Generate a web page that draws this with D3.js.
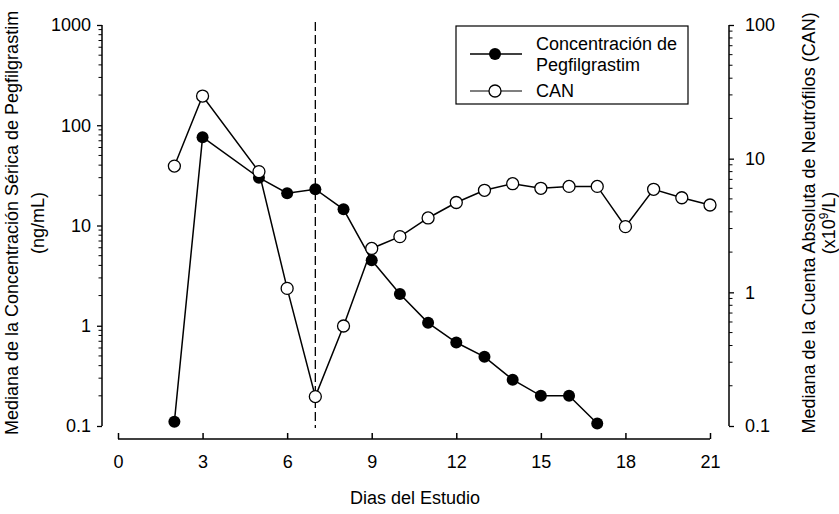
<!DOCTYPE html>
<html><head><meta charset="utf-8">
<script src="https://cdn.jsdelivr.net/npm/d3@7/dist/d3.min.js"></script>
<style>body{margin:0;background:#fff}svg{display:block;font-family:"Liberation Sans",Arial,sans-serif}</style>
</head><body><svg id="c" width="839" height="514"></svg>
<script>
const pegDays = [2,3,5,6,7,8,9,10,11,12,13,14,15,16,17];
const pegValues = [0.11,76,30,21,23,14.5,4.5,2.07,1.07,0.68,0.49,0.29,0.2,0.2,0.106];
const canDays = [2,3,5,6,7,8,9,10,11,12,13,14,15,16,17,18,19,20,21];
const canValues = [8.8,29.4,8.0,1.07,0.166,0.56,2.13,2.61,3.6,4.7,5.8,6.5,6.0,6.2,6.2,3.1,5.9,5.1,4.5];
const xTicks = [0,3,6,9,12,15,18,21];
const leftTicks = [0.1,1,10,100,1000];
const rightTicks = [0.1,1,10,100];
const dosingDay = 7;

const FS = 18;
const svg = d3.select("#c");
const x = d3.scaleLinear().domain([0,21]).range([118,710]);
const yL = d3.scaleLog().domain([0.1,1000]).range([426,25]);
const yR = d3.scaleLog().domain([0.1,100]).range([426,25]);

function minors(dom){const out=[];for(let e=Math.round(Math.log10(dom[0]));e<Math.round(Math.log10(dom[1]));e++){for(let k=2;k<=9;k++)out.push(k*Math.pow(10,e));}return out;}

// X axis
const xa = svg.append("g").attr("transform","translate(0,439)")
  .call(d3.axisBottom(x).tickValues(xTicks).tickSize(-6).tickFormat(d3.format("d")));
xa.select(".domain").attr("stroke","#000").attr("stroke-width",1.5).attr("d","M118,0H710");
xa.selectAll(".tick line").attr("stroke-width",1.5);
xa.selectAll("text").attr("font-size",FS).attr("fill","#000").attr("dy","0.71em").attr("y",16);

// Left axis
const la = svg.append("g").attr("transform","translate(102,0)");
la.call(d3.axisLeft(yL).tickValues(leftTicks).tickSize(5).tickPadding(6).tickFormat(d=>String(d)));
la.select(".domain").attr("stroke-width",1.5).attr("d","M0,25V426");
la.selectAll(".tick line").attr("stroke-width",1.3);
la.selectAll("text").attr("font-size",FS).attr("fill","#000");
la.selectAll(".minor").data(minors(yL.domain())).enter().append("line").attr("class","minor")
  .attr("x1",0).attr("x2",-3.5).attr("y1",d=>yL(d)).attr("y2",d=>yL(d)).attr("stroke","#000");

// Right axis
const ra = svg.append("g").attr("transform","translate(729,0)");
ra.call(d3.axisRight(yR).tickValues(rightTicks).tickSize(5).tickPadding(11).tickFormat(d=>String(d)));
ra.select(".domain").attr("stroke-width",1.5).attr("d","M0,25V426");
ra.selectAll(".tick line").attr("stroke-width",1.3);
ra.selectAll("text").attr("font-size",FS).attr("fill","#000");
ra.selectAll(".minor").data(minors(yR.domain())).enter().append("line").attr("class","minor")
  .attr("x1",0).attr("x2",3.5).attr("y1",d=>yR(d)).attr("y2",d=>yR(d)).attr("stroke","#000");

// Titles
svg.append("text").attr("x",415).attr("y",504).attr("text-anchor","middle").attr("font-size",FS).text("Dias del Estudio");
const lt = svg.append("text").attr("transform","translate(18,223) rotate(-90)").attr("text-anchor","middle").attr("font-size",FS);
lt.append("tspan").attr("x",0).attr("y",0).text("Mediana de la Concentración Sérica de Pegfilgrastim");
lt.append("tspan").attr("x",0).attr("y",26).text("(ng/mL)");
const rt = svg.append("text").attr("transform","translate(815,223) rotate(-90)").attr("text-anchor","middle").attr("font-size",FS);
rt.append("tspan").attr("x",0).attr("y",0).text("Mediana de la Cuenta Absoluta de Neutrófilos (CAN)");
const t2 = rt.append("tspan").attr("x",0).attr("y",20).text("(x10");
t2.append("tspan").attr("font-size",12).attr("dy",-7).text("9");
rt.append("tspan").attr("dy",7).text("/L)");

// dashed line
svg.append("line").attr("x1",x(dosingDay)).attr("x2",x(dosingDay)).attr("y1",22).attr("y2",428)
  .attr("stroke","#000").attr("stroke-width",1.3).attr("stroke-dasharray","9,4");

// series
const canPts = canDays.map((d,i)=>[d,canValues[i]]);
const pegPts = pegDays.map((d,i)=>[d,pegValues[i]]);
svg.append("path").attr("d",d3.line().x(d=>x(d[0])).y(d=>yR(d[1]))(canPts)).attr("fill","none").attr("stroke","#000").attr("stroke-width",1.5);
svg.append("path").attr("d",d3.line().x(d=>x(d[0])).y(d=>yL(d[1]))(pegPts)).attr("fill","none").attr("stroke","#000").attr("stroke-width",1.5);
svg.selectAll(".pc").data(pegPts).enter().append("circle").attr("cx",d=>x(d[0])).attr("cy",d=>yL(d[1])).attr("r",6).attr("fill","#000");
svg.selectAll(".cc").data(canPts).enter().append("circle").attr("cx",d=>x(d[0])).attr("cy",d=>yR(d[1])).attr("r",6).attr("fill","#fff").attr("stroke","#000").attr("stroke-width",1.3);

// legend
const lg = svg.append("g");
lg.append("rect").attr("x",456).attr("y",26).attr("width",232).attr("height",78).attr("fill","#fff").attr("stroke","#000").attr("stroke-width",1.2);
lg.append("line").attr("x1",470).attr("x2",522).attr("y1",54).attr("y2",54).attr("stroke","#000").attr("stroke-width",1.5);
lg.append("circle").attr("cx",495).attr("cy",54).attr("r",6).attr("fill","#000");
lg.append("line").attr("x1",470).attr("x2",522).attr("y1",91).attr("y2",91).attr("stroke","#000").attr("stroke-width",1.2);
lg.append("circle").attr("cx",495).attr("cy",91).attr("r",6).attr("fill","#fff").attr("stroke","#000").attr("stroke-width",1.3);
const lgt = lg.append("text").attr("font-size",FS);
lgt.append("tspan").attr("x",536).attr("y",50).text("Concentración de");
lgt.append("tspan").attr("x",536).attr("y",71).text("Pegfilgrastim");
lg.append("text").attr("font-size",FS).attr("x",536).attr("y",97).text("CAN");
</script></body></html>
